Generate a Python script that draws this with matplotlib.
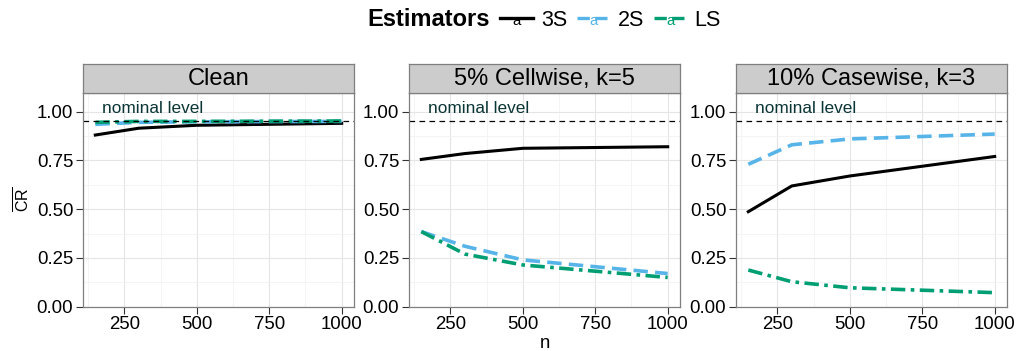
import matplotlib
matplotlib.use("Agg")
import matplotlib.pyplot as plt
from matplotlib.lines import Line2D
from matplotlib.text import Text
from matplotlib.legend_handler import HandlerBase
from matplotlib.ticker import MultipleLocator

plt.rcParams['font.family'] = ['Liberation Sans', 'DejaVu Sans']
plt.rcParams['mathtext.fontset'] = 'custom'
plt.rcParams['mathtext.rm'] = 'Liberation Sans'

# data
n = [150, 300, 500, 1000]
panels = ["Clean", "5% Cellwise, k=5", "10% Casewise, k=3"]
estimators = ["3S", "2S", "LS"]
cr_3s = [
    [0.88, 0.915, 0.93, 0.94],
    [0.755, 0.785, 0.812, 0.82],
    [0.487, 0.619, 0.67, 0.77],
]
cr_2s = [
    [0.935, 0.945, 0.948, 0.95],
    [0.385, 0.31, 0.24, 0.17],
    [0.73, 0.83, 0.86, 0.885],
]
cr_ls = [
    [0.945, 0.95, 0.95, 0.952],
    [0.385, 0.27, 0.214, 0.15],
    [0.188, 0.128, 0.097, 0.072],
]
nominal = 0.95

W, H = 1018, 351
fig = plt.figure(figsize=(W / 100, H / 100), dpi=100)

lefts = [83, 409, 736]
pw = 271
top, bottom = 92.7, 306.7
strip_top = 64

styles = {
    "3S": dict(color="black", ls="-"),
    "2S": dict(color="#56B4E9", ls=(0, (4, 2))),
    "LS": dict(color="#009E73", ls=(0, (4, 1.5, 1, 1.5))),
}


class LineWithA(HandlerBase):
    # legend key: the line plus a small "a", as ggplot draws it
    def create_artists(self, legend, orig, xd, yd, width, height, fontsize, trans):
        ln = Line2D([-xd, width - xd], [height / 2 - yd] * 2,
                    color=orig.get_color(), ls=orig.get_linestyle(),
                    lw=orig.get_linewidth(), transform=trans)
        tx = Text(width / 2 - xd, height / 2 - yd - 2, "a",
                  color=orig.get_color(), fontsize=fontsize * 0.7,
                  ha="center", va="center", transform=trans)
        return [ln, tx]


for i, name in enumerate(panels):
    ax = fig.add_axes([lefts[i] / W, 1 - bottom / H, pw / W, (bottom - top) / H])
    ax.plot(n, cr_3s[i], lw=2.2, **styles["3S"])
    ax.plot(n, cr_2s[i], lw=2.6, **styles["2S"])
    ax.plot(n, cr_ls[i], lw=2.6, **styles["LS"])
    ax.axhline(nominal, color="black", lw=0.9, ls=(0, (4.5, 3.5)))
    ax.text(349, 0.995, "nominal level", ha="center", va="baseline",
            fontsize=12.4, color="#0b3535")
    ax.set_xlim(107.5, 1042.5)
    ax.set_ylim(0, 1.097)
    ax.xaxis.set_minor_locator(MultipleLocator(125))
    ax.yaxis.set_minor_locator(MultipleLocator(0.125))
    ax.set_yticks([0, 0.25, 0.5, 0.75, 1.0])
    ax.set_yticklabels(["0.00", "0.25", "0.50", "0.75", "1.00"])
    ax.set_xticks([250, 500, 750, 1000])
    ax.grid(which="major", color="#e5e5e5", lw=0.8)
    ax.grid(which="minor", color="#f2f2f2", lw=0.6)
    ax.set_axisbelow(True)
    ax.tick_params(which="major", labelsize=13.4, length=5, color="#333333",
                   labelcolor="black", pad=2)
    ax.tick_params(which="minor", length=0)
    for sp in ax.spines.values():
        sp.set_color("#7f7f7f")
        sp.set_linewidth(0.9)
    if i == 0:
        ax.set_ylabel(r"$\overline{\mathrm{CR}}$", fontsize=11.5, labelpad=3)
    if i == 1:
        ax.set_xlabel("n", fontsize=13.4, labelpad=1)

    sax = fig.add_axes([lefts[i] / W, 1 - top / H, pw / W, (top - strip_top) / H])
    sax.set_facecolor("#cccccc")
    sax.set_xticks([])
    sax.set_yticks([])
    for sp in sax.spines.values():
        sp.set_color("#7f7f7f")
        sp.set_linewidth(0.9)
    sax.text(0.5, 0.47, name, ha="center", va="center", fontsize=17,
             transform=sax.transAxes)

fig.text(367 / W, 1 - 20 / H, "Estimators", fontsize=17, fontweight="bold",
         ha="left", va="center")
handles = [Line2D([], [], lw=2.4, **styles[k]) for k in estimators]
fig.legend(handles, estimators, ncol=3, frameon=False, fontsize=15.5,
           loc="center left", bbox_to_anchor=(500 / W, 1 - 20 / H),
           handlelength=1.55, handletextpad=0.35, columnspacing=0.45,
           borderaxespad=0, borderpad=0,
           handler_map={Line2D: LineWithA()})

fig.savefig("out.png", dpi=100)
